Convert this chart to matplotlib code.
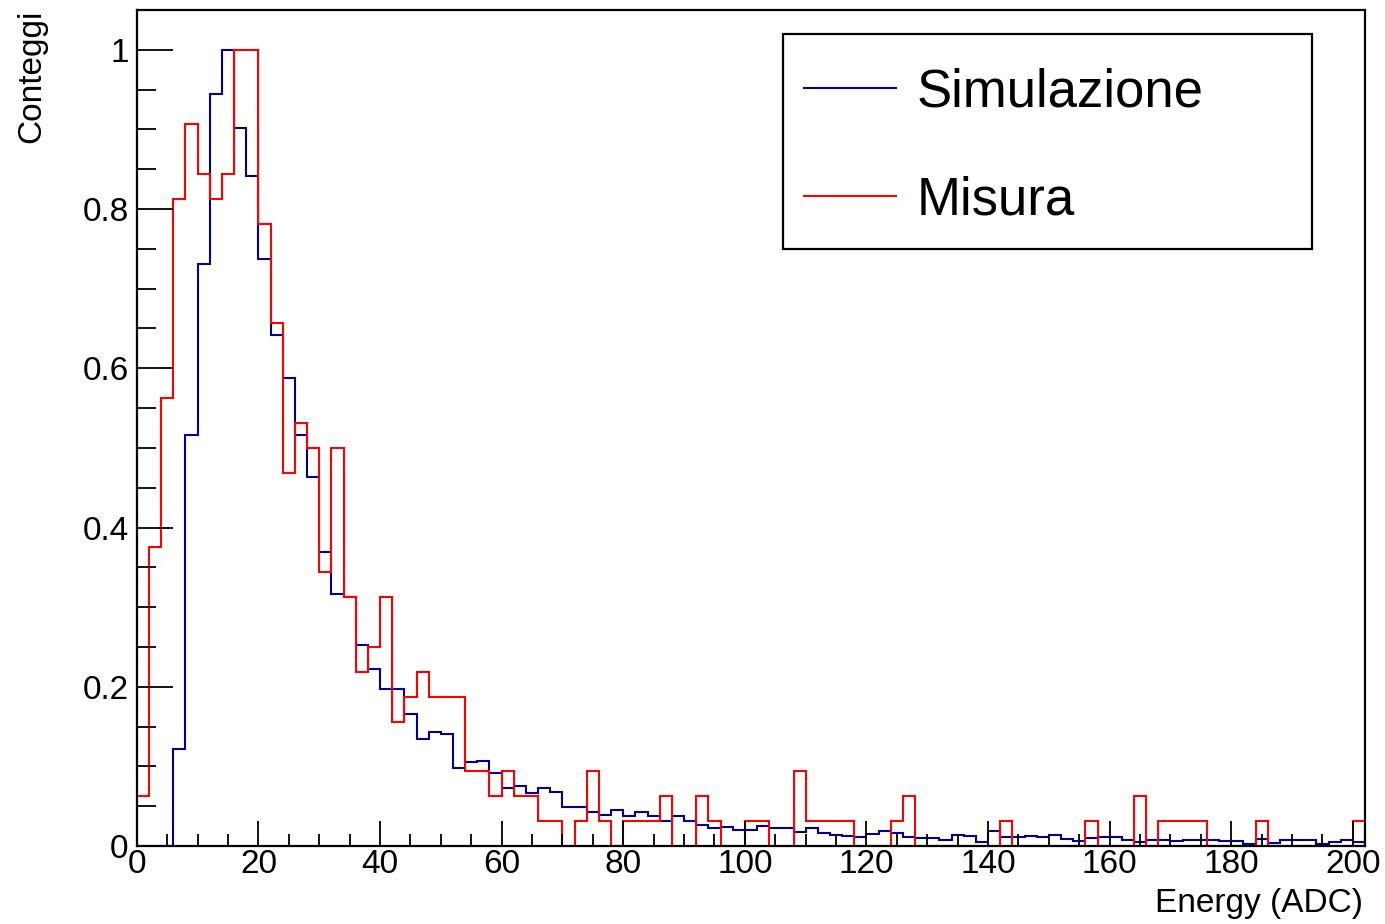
import matplotlib
matplotlib.use("Agg")
import matplotlib.pyplot as plt
from matplotlib.patches import Rectangle
from matplotlib.ticker import MultipleLocator, FormatStrFormatter
import numpy as np

plt.rcParams["font.family"] = ["Liberation Sans", "DejaVu Sans"]

# histogram binning: 101 bins of width 2 ADC, from 0 to 202
edges = np.arange(0, 204, 2)

# simulation, already normalised to its maximum (one value per bin)
simulazione = [
    0, 0, 0, 0.122, 0.516, 0.731, 0.945, 1.0, 0.902, 0.841,
    0.737, 0.642, 0.588, 0.516, 0.463, 0.369, 0.317, 0.313, 0.252, 0.222,
    0.197, 0.197, 0.166, 0.135, 0.143, 0.141, 0.098, 0.105, 0.107, 0.092,
    0.073, 0.076, 0.066, 0.073, 0.068, 0.049, 0.049, 0.043, 0.039, 0.045,
    0.038, 0.043, 0.038, 0.031, 0.038, 0.032, 0.026, 0.023, 0.024, 0.020,
    0.020, 0.025, 0.023, 0.023, 0.017, 0.022, 0.016, 0.014, 0.013, 0.011,
    0.015, 0.019, 0.016, 0.011, 0.010, 0.010, 0.008, 0.014, 0.012, 0.005,
    0.019, 0.011, 0.011, 0.013, 0.011, 0.014, 0.009, 0.006, 0.010, 0.011,
    0.011, 0.007, 0.005, 0.007, 0.008, 0.006, 0.007, 0.008, 0.007, 0.006,
    0.006, 0.003, 0.009, 0.004, 0.007, 0.007, 0.007, 0.003, 0.005, 0.007,
    0.005,
]

# measured counts per bin (peak bin = 32)
misura_counts = np.array([
    2, 12, 18, 26, 29, 27, 26, 27, 32, 32,
    25, 21, 15, 17, 16, 11, 16, 10, 7, 8,
    10, 5, 6, 7, 6, 6, 6, 3, 3, 2,
    3, 2, 2, 1, 1, 0, 1, 3, 1, 0,
    1, 1, 1, 2, 0, 0, 2, 1, 0, 0,
    1, 1, 0, 0, 3, 1, 1, 1, 1, 0,
    0, 0, 1, 2, 0, 0, 0, 0, 0, 0,
    0, 1, 0, 0, 0, 0, 0, 0, 1, 0,
    0, 0, 2, 0, 1, 1, 1, 1, 0, 0,
    0, 0, 1, 0, 0, 0, 0, 0, 0, 0,
    1,
])
misura = misura_counts / misura_counts.max()

fig = plt.figure(figsize=(13.85, 9.24), dpi=100)
ax = fig.add_axes([0.0988, 0.0844, 0.8868, 0.9048])

ax.stairs(simulazione, edges, baseline=0, color="#000099", lw=1.5, label="Simulazione")
ax.stairs(misura, edges, baseline=0, color="#ff0000", lw=1.5, label="Misura")

ax.set_xlim(0, 202)
ax.set_ylim(0, 1.05)

# ROOT-like axes: inward ticks, left/bottom only
ax.xaxis.set_major_locator(MultipleLocator(20))
ax.xaxis.set_minor_locator(MultipleLocator(5))
ax.yaxis.set_major_locator(MultipleLocator(0.2))
ax.yaxis.set_minor_locator(MultipleLocator(0.05))
ax.yaxis.set_major_formatter(FormatStrFormatter("%g"))
ax.tick_params(axis="x", which="major", direction="in", length=18, width=1.3,
               labelsize=24, pad=2)
ax.tick_params(axis="x", which="minor", direction="in", length=9, width=1.3)
ax.tick_params(axis="y", which="major", direction="in", length=26, width=1.3,
               labelsize=24, pad=6)
ax.tick_params(axis="y", which="minor", direction="in", length=13.5, width=1.3)
for s in ax.spines.values():
    s.set_linewidth(1.6)

ax.set_xlabel("Energy (ADC)", fontsize=24, loc="right", va="baseline")
ax.xaxis.set_label_coords(0.998, -0.079)
ax.set_ylabel("Conteggi", fontsize=24, loc="top")
ax.yaxis.set_label_coords(-0.073, 1.0)

# legend box (ROOT TLegend style) with the entries placed inside it
ax.add_patch(Rectangle((0.526, 0.714), 0.431, 0.257, transform=ax.transAxes,
                       fill=False, edgecolor="black", lw=1.6, zorder=5))
leg = ax.legend(loc="upper left", bbox_to_anchor=(0.5237, 0.9593),
                fontsize=38, frameon=False, borderpad=0.45, labelspacing=1.09,
                handlelength=1.75, handletextpad=0.38, borderaxespad=0)

fig.savefig("out.png", dpi=100)
